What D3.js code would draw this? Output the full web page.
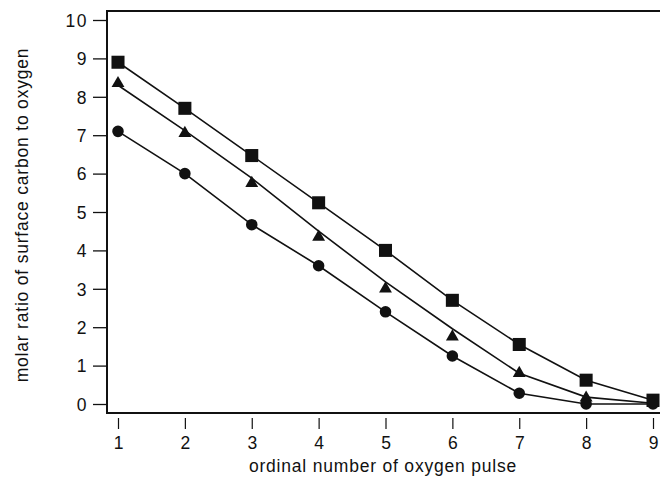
<!DOCTYPE html>
<html>
<head>
<meta charset="utf-8">
<script src="https://cdn.jsdelivr.net/npm/d3@7"></script>
<style>
  body { margin: 0; background: #fff; }
  svg { display: block; }
  .tick text { font-family: 'Liberation Sans', Arial, sans-serif; font-size: 17.5px; fill: #111; }
  .tick line { stroke: #111; }
  .label { font-family: 'Liberation Sans', Arial, sans-serif; font-size: 17.5px; letter-spacing: 0.8px; fill: #111; }
</style>
</head>
<body>
<div id="chart"></div>
<script>
const pulses = [1, 2, 3, 4, 5, 6, 7, 8, 9];
const yTicks = [0, 1, 2, 3, 4, 5, 6, 7, 8, 9, 10];

// measured points
const squares = [8.9, 7.7, 6.47, 5.24, 4.0, 2.7, 1.55, 0.62, 0.1];
const triangles = [8.35, 7.05, 5.75, 4.35, 3.0, 1.75, 0.8, 0.16, 0.02];
const circles = [7.1, 6.0, 4.67, 3.6, 2.4, 1.25, 0.28, 0.0, 0.0];

// curves drawn through each set
const squareCurve = [8.9, 7.7, 6.47, 5.24, 4.0, 2.7, 1.55, 0.62, 0.1];
const triangleCurve = [8.3, 7.12, 5.88, 4.5, 3.18, 1.96, 0.8, 0.18, 0.02];
const circleCurve = [7.1, 6.0, 4.67, 3.6, 2.4, 1.25, 0.28, 0.0, 0.0];

const width = 660;
const height = 477;

const frame = { left: 107, top: 11, bottom: 413, right: 660 };

const xScale = d3.scaleLinear().domain([1, 9]).range([118, 653]);
const yScale = d3.scaleLinear().domain([0, 10]).range([404, 20]);

const svg = d3.select('#chart').append('svg')
  .attr('width', width)
  .attr('height', height);

// frame: top, left and bottom edges
svg.append('path')
  .attr('d', 'M' + frame.right + ',' + frame.top + 'H' + frame.left +
    'V' + frame.bottom + 'H' + frame.right)
  .attr('fill', 'none')
  .attr('stroke', '#111')
  .attr('stroke-width', 2);

svg.append('g')
  .attr('transform', 'translate(' + (frame.left - 1) + ',0)')
  .call(d3.axisLeft(yScale).tickValues(yTicks).tickSize(13).tickPadding(5))
  .call(g => g.select('.domain').remove())
  .call(g => g.selectAll('.tick line').attr('stroke-width', 1.3))
  .call(g => g.selectAll('.tick text').attr('dy', '0.36em').style('letter-spacing', '1.5px'));

svg.append('g')
  .attr('transform', 'translate(0,' + (frame.bottom + 5) + ')')
  .call(d3.axisBottom(xScale).tickValues(pulses).tickSize(11).tickPadding(8))
  .call(g => g.select('.domain').remove())
  .call(g => g.selectAll('.tick line').attr('stroke-width', 1.2));

svg.append('text')
  .attr('class', 'label')
  .attr('x', 383)
  .attr('y', 472)
  .attr('text-anchor', 'middle')
  .text('ordinal number of oxygen pulse');

svg.append('text')
  .attr('class', 'label')
  .attr('transform', 'translate(28,215) rotate(-90)')
  .attr('text-anchor', 'middle')
  .text('molar ratio of surface carbon to oxygen');

const line = d3.line()
  .x((d, i) => xScale(pulses[i]))
  .y(d => yScale(d));

[squareCurve, triangleCurve, circleCurve].forEach((curve) => {
  svg.append('path')
    .datum(curve)
    .attr('fill', 'none')
    .attr('stroke', '#111')
    .attr('stroke-width', 1.6)
    .attr('d', line);
});

const symbols = [
  { values: squares, type: d3.symbolSquare, size: 170 },
  { values: triangles, type: d3.symbolTriangle, size: 72 },
  { values: circles, type: d3.symbolCircle, size: 105 }
];

symbols.forEach((s) => {
  svg.selectAll(null)
    .data(s.values).enter()
      .append('path')
        .attr('d', d3.symbol().type(s.type).size(s.size))
        .attr('transform', (d, i) => 'translate(' + xScale(pulses[i]) + ',' + yScale(d) + ')')
        .attr('fill', '#111');
});
</script>
</body>
</html>
